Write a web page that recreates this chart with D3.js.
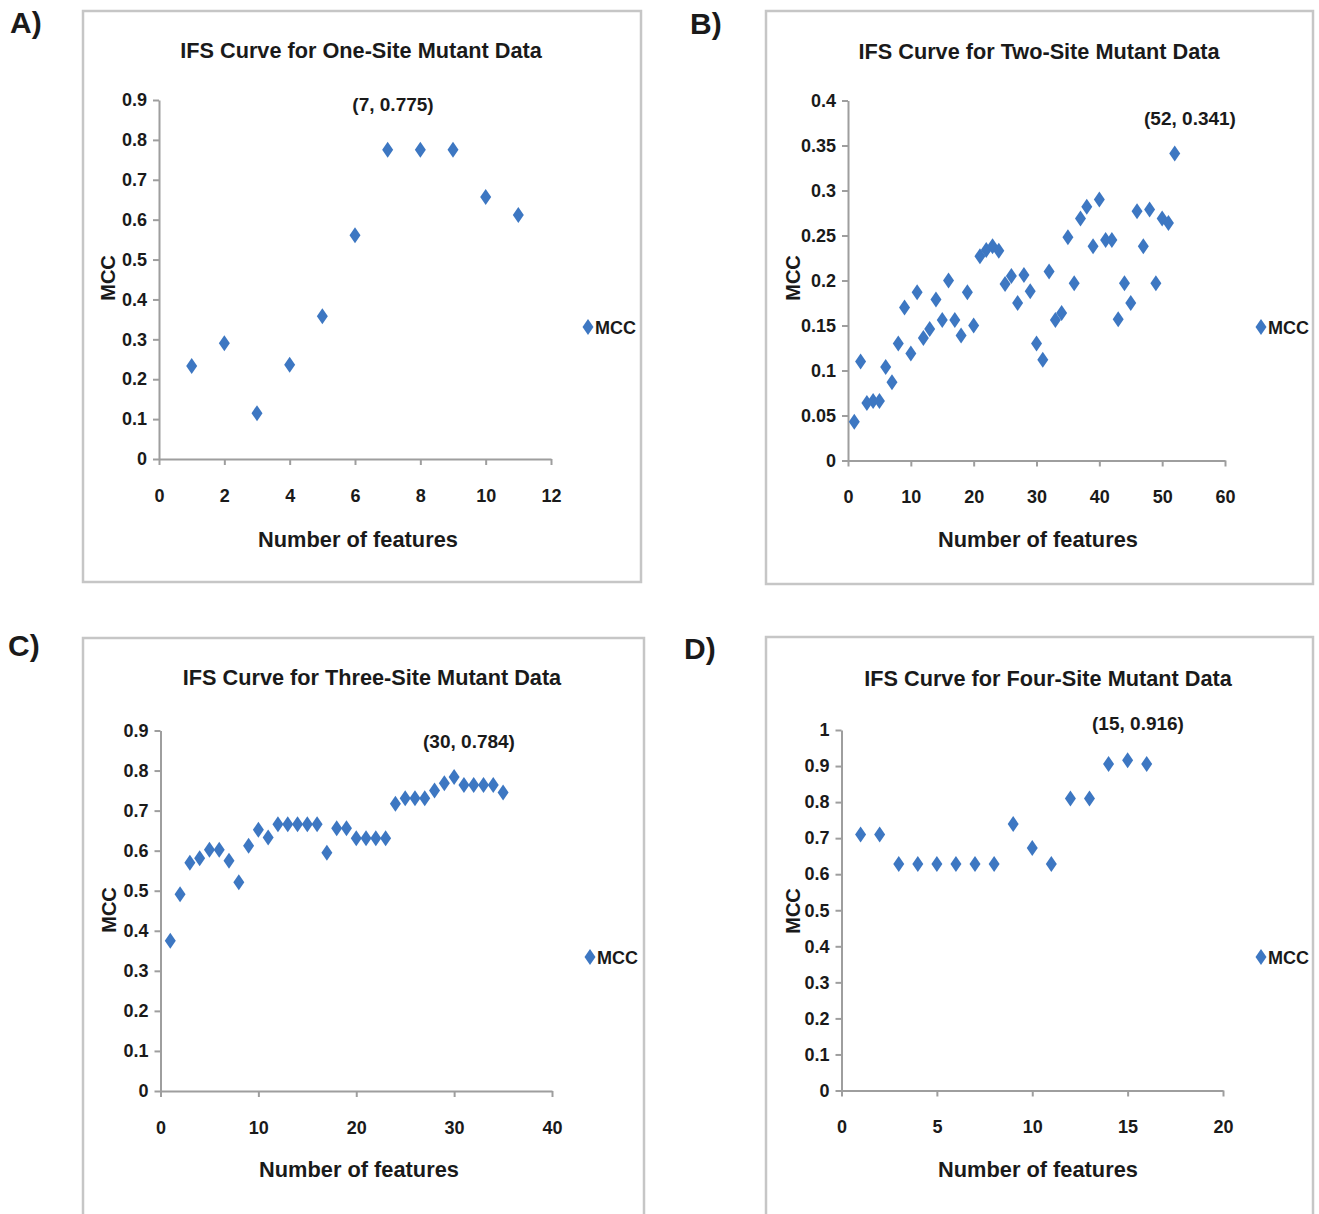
<!DOCTYPE html>
<html>
<head>
<meta charset="utf-8">
<script src="https://cdn.jsdelivr.net/npm/d3@7"></script>
<style>
  body { margin: 0; background: #fff; }
  svg text { font-family: "Liberation Sans", Arial, sans-serif; font-weight: bold; fill: #1a1a1a; }
</style>
</head>
<body>
<svg id="fig" width="1319" height="1214"></svg>
<script>
// MCC values
const oneSiteFeatures = [1, 2, 3, 4, 5, 6, 7, 8, 9, 10, 11];
const oneSiteMcc = [0.233, 0.29, 0.115, 0.236, 0.358, 0.561, 0.775, 0.775, 0.775, 0.657, 0.612];

const twoSiteFeatures = [1, 2, 3, 4, 5, 6, 7, 8, 9, 10, 11, 12, 13, 14, 15, 16, 17, 18, 19, 20,
  21, 22, 23, 24, 25, 26, 27, 28, 29, 30, 31, 32, 33, 34, 35, 36, 37, 38, 39, 40,
  41, 42, 43, 44, 45, 46, 47, 48, 49, 50, 51, 52];
const twoSiteMcc = [0.043, 0.11, 0.064, 0.066, 0.066, 0.104, 0.087, 0.13, 0.17, 0.119,
  0.187, 0.136, 0.146, 0.179, 0.156, 0.2, 0.156, 0.139, 0.187, 0.15,
  0.227, 0.234, 0.238, 0.233, 0.196, 0.205, 0.175, 0.206, 0.188, 0.13,
  0.112, 0.21, 0.156, 0.164, 0.248, 0.197, 0.269, 0.282, 0.238, 0.29,
  0.245, 0.245, 0.157, 0.197, 0.175, 0.277, 0.238, 0.279, 0.197, 0.269,
  0.264, 0.341];

const threeSiteFeatures = [1, 2, 3, 4, 5, 6, 7, 8, 9, 10, 11, 12, 13, 14, 15, 16, 17, 18,
  19, 20, 21, 22, 23, 24, 25, 26, 27, 28, 29, 30, 31, 32, 33, 34, 35];
const threeSiteMcc = [0.375, 0.491, 0.57, 0.581, 0.602, 0.602, 0.575, 0.521, 0.612, 0.652,
  0.633, 0.666, 0.666, 0.666, 0.666, 0.666, 0.595, 0.656, 0.656, 0.631,
  0.631, 0.631, 0.631, 0.717, 0.731, 0.731, 0.731, 0.75, 0.768, 0.784,
  0.764, 0.764, 0.764, 0.764, 0.745];

const fourSiteFeatures = [1, 2, 3, 4, 5, 6, 7, 8, 9, 10, 11, 12, 13, 14, 15, 16];
const fourSiteMcc = [0.71, 0.71, 0.628, 0.628, 0.628, 0.628, 0.628, 0.628, 0.739, 0.673,
  0.628, 0.81, 0.81, 0.906, 0.916, 0.906];

const oneSiteXTicks = [0, 2, 4, 6, 8, 10, 12];
const twoSiteXTicks = [0, 10, 20, 30, 40, 50, 60];
const threeSiteXTicks = [0, 10, 20, 30, 40];
const fourSiteXTicks = [0, 5, 10, 15, 20];
const tenthTicks = [0, 0.1, 0.2, 0.3, 0.4, 0.5, 0.6, 0.7, 0.8, 0.9];
const twoSiteYTicks = [0, 0.05, 0.1, 0.15, 0.2, 0.25, 0.3, 0.35, 0.4];
const fourSiteYTicks = [0, 0.1, 0.2, 0.3, 0.4, 0.5, 0.6, 0.7, 0.8, 0.9, 1];

const panelLabels = ["A)", "B)", "C)", "D)"];
const titles = [
  "IFS Curve for One-Site Mutant Data",
  "IFS Curve for Two-Site Mutant Data",
  "IFS Curve for Three-Site Mutant Data",
  "IFS Curve for Four-Site Mutant Data"
];
const peakLabels = ["(7, 0.775)", "(52, 0.341)", "(30, 0.784)", "(15, 0.916)"];

const blue = "#3d77c2";
const axisGrey = "#9e9e9e";
const diamond = "M0,-8L5.5,0L0,8L-5.5,0Z";

// layout of each panel (page pixels)
const panels = [
  { features: oneSiteFeatures, mcc: oneSiteMcc, xTicks: oneSiteXTicks, yTicks: tenthTicks,
    xMax: 12, yMax: 0.9, label: [10, 33], box: [83, 11, 558, 571],
    x0: 159, x1: 551, y0: 459, y1: 100, title: [361, 58], xTitle: [358, 547], yTitle: [115, 278],
    legend: [588, 327], peak: [393, 111] },
  { features: twoSiteFeatures, mcc: twoSiteMcc, xTicks: twoSiteXTicks, yTicks: twoSiteYTicks,
    xMax: 60, yMax: 0.4, label: [690, 34], box: [766, 11, 547, 573],
    x0: 848, x1: 1225, y0: 460.5, y1: 100.5, title: [1039, 59], xTitle: [1038, 547], yTitle: [800, 278],
    legend: [1261, 327], peak: [1190, 125] },
  { features: threeSiteFeatures, mcc: threeSiteMcc, xTicks: threeSiteXTicks, yTicks: tenthTicks,
    xMax: 40, yMax: 0.9, label: [8, 656], box: [83, 638, 561, 590],
    x0: 160.5, x1: 552, y0: 1091, y1: 730.5, title: [372, 685], xTitle: [359, 1177], yTitle: [116, 910],
    legend: [590, 957], peak: [469, 748] },
  { features: fourSiteFeatures, mcc: fourSiteMcc, xTicks: fourSiteXTicks, yTicks: fourSiteYTicks,
    xMax: 20, yMax: 1, label: [684, 659], box: [766, 637, 547, 590],
    x0: 841.5, x1: 1223, y0: 1090.5, y1: 730, title: [1048, 686], xTitle: [1038, 1177], yTitle: [800, 911],
    legend: [1261, 957], peak: [1138, 730] }
];

const svg = d3.select("#fig");
const fmtY = d => String(+d.toFixed(2));

panels.forEach((p, i) => {
  const g = svg.append("g");

  g.append("rect")
    .attr("x", p.box[0]).attr("y", p.box[1])
    .attr("width", p.box[2]).attr("height", p.box[3])
    .attr("fill", "none").attr("stroke", "#c6c6c6").attr("stroke-width", 2.5);

  g.append("text").attr("x", p.label[0]).attr("y", p.label[1])
    .style("font-size", "30px").text(panelLabels[i]);

  g.append("text").attr("x", p.title[0]).attr("y", p.title[1])
    .attr("text-anchor", "middle").style("font-size", "21.7px").text(titles[i]);

  const x = d3.scaleLinear().domain([0, p.xMax]).range([p.x0, p.x1]);
  const y = d3.scaleLinear().domain([0, p.yMax]).range([p.y0, p.y1]);

  const xAxis = g.append("g")
    .attr("transform", `translate(0,${p.y0})`)
    .call(d3.axisBottom(x).tickValues(p.xTicks).tickSize(6).tickSizeOuter(0).tickPadding(24));
  const yAxis = g.append("g")
    .attr("transform", `translate(${p.x0},0)`)
    .call(d3.axisLeft(y).tickValues(p.yTicks).tickFormat(fmtY).tickSize(6).tickSizeOuter(0).tickPadding(6));

  [xAxis, yAxis].forEach(ax => {
    ax.select(".domain").attr("stroke", axisGrey).attr("stroke-width", 2);
    ax.selectAll(".tick line").attr("stroke", axisGrey).attr("stroke-width", 2);
    ax.selectAll(".tick text")
      .style("font-size", "18px")
      .style("font-family", "'Liberation Sans', Arial, sans-serif")
      .style("font-weight", "bold")
      .attr("fill", "#1a1a1a");
  });

  g.append("text").attr("x", p.xTitle[0]).attr("y", p.xTitle[1])
    .attr("text-anchor", "middle").style("font-size", "21.8px").text("Number of features");

  g.append("text")
    .attr("transform", `translate(${p.yTitle[0]},${p.yTitle[1]}) rotate(-90)`)
    .attr("text-anchor", "middle").style("font-size", "20px").text("MCC");

  g.selectAll("path.pt")
    .data(p.features.map((f, k) => [f, p.mcc[k]]))
    .join("path")
    .attr("class", "pt")
    .attr("d", diamond)
    .attr("fill", blue)
    .attr("transform", d => `translate(${x(d[0])},${y(d[1])})`);

  g.append("text").attr("x", p.peak[0]).attr("y", p.peak[1])
    .attr("text-anchor", "middle").style("font-size", "19px").text(peakLabels[i]);

  // legend
  g.append("path").attr("d", diamond).attr("fill", blue)
    .attr("transform", `translate(${p.legend[0]},${p.legend[1]})`);
  g.append("text").attr("x", p.legend[0] + 7).attr("y", p.legend[1] + 7)
    .style("font-size", "18px").text("MCC");
});
</script>
</body>
</html>
